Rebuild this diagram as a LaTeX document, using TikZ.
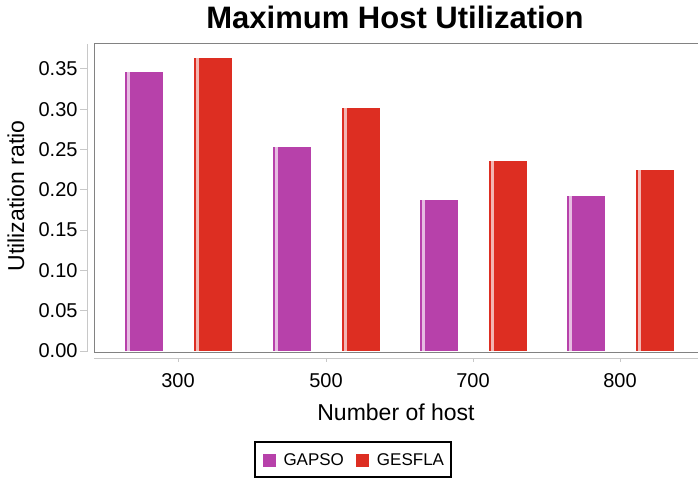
\documentclass[tikz,border=0pt]{standalone}
\usepackage{fontspec}
\setmainfont{Liberation Sans}
\usetikzlibrary{positioning}

\definecolor{gapsocol}{RGB}{183,65,170}
\definecolor{gesflacol}{RGB}{221,46,34}
\definecolor{framecol}{RGB}{130,130,130}
\definecolor{axiscol}{RGB}{200,200,200}

\begin{document}
\begin{tikzpicture}[x=1pt, y=-1pt, line width=1pt,
  ticklabel/.style={font=\fontsize{20}{24}\selectfont, inner sep=0pt},
  axislabel/.style={font=\fontsize{23}{27}\selectfont, inner sep=0pt},
  legendtext/.style={font=\fontsize{17}{20}\selectfont, inner sep=0pt},
  legendkey/.style={minimum size=13pt, inner sep=0pt},
]
  \useasboundingbox (0,0) rectangle (698,478);
  \coordinate (TL) at (94,44);
  \coordinate (TR) at (698,44);
  \coordinate (BL) at (94,352);
  \coordinate (BR) at (698,352);
  % bars: centre / GAPSO / GESFLA
  \foreach \cx/\va/\vb/\lab in {178/0.346/0.363/300, 326/0.253/0.301/500,
                                473/0.187/0.236/700, 620/0.192/0.225/800} {
    \pgfmathsetmacro{\ya}{351-806*\va}
    \pgfmathsetmacro{\yb}{351-806*\vb}
    \fill[gapsocol] (\cx-53,\ya) rectangle (\cx-15,351);
    \fill[gapsocol!35] (\cx-51,\ya) rectangle (\cx-48,351);
    \fill[gesflacol] (\cx+16,\yb) rectangle (\cx+54,351);
    \fill[gesflacol!35] (\cx+18,\yb) rectangle (\cx+21,351);
    \draw[axiscol] (\cx,358) -- (\cx,362);
    \node[ticklabel, anchor=base] (x\lab) at (\cx,387) {\lab};
  }
  \draw[framecol] (TR) -- (TL) -- (BL) -- (BR);
  \draw[axiscol] (87,44) -- (87,352);
  \draw[axiscol] (94,358) -- (698,358);
  % y ticks
  \foreach \i/\t in {0/0.00, 1/0.05, 2/0.10, 3/0.15, 4/0.20, 5/0.25, 6/0.30, 7/0.35} {
    \pgfmathsetmacro{\yy}{351-40.3*\i}
    \draw[axiscol] (80,\yy) -- (87,\yy);
    \node[ticklabel, anchor=east] (ytick\i) at (78,\yy) {\t};
  }
  \node[font=\fontsize{31}{36}\selectfont\bfseries, anchor=base] (title) at (395,29) {Maximum Host Utilization};
  \node[axislabel, rotate=90] (ylabel) at (16,196) {Utilization ratio};
  \node[axislabel, anchor=base] (xlabel) at (396,420) {Number of host};
  % legend
  \draw[black, line width=1.3pt] (255,442) rectangle (451,477);
  \node[legendkey, fill=gapsocol] (keygapso) at (269,460) {};
  \node[legendtext, right=7pt of keygapso] (txtgapso) {GAPSO};
  \node[legendkey, fill=gesflacol, right=11pt of txtgapso] (keygesfla) {};
  \node[legendtext, right=7pt of keygesfla] (txtgesfla) {GESFLA};
\end{tikzpicture}
\end{document}
